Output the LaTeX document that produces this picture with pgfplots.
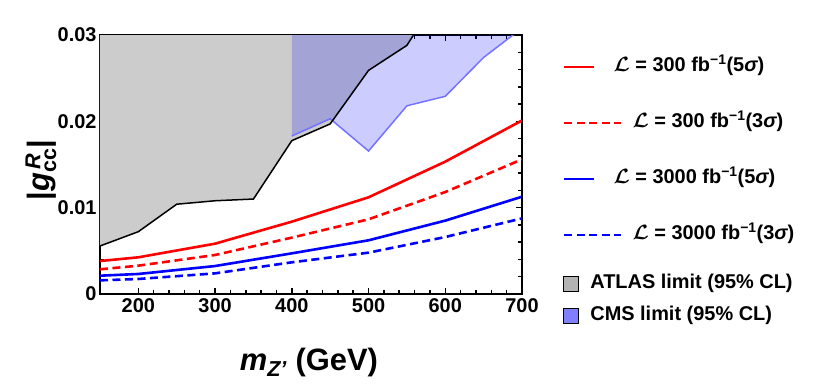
\documentclass[border=0pt]{standalone}
\usepackage{amsmath}
\usepackage{fontspec}
\setmainfont{Liberation Sans}
\usepackage{pgfplots}
\pgfplotsset{compat=1.18}

\definecolor{atlasgray}{RGB}{204,204,204}
\definecolor{atlaskey}{RGB}{179,179,179}
\definecolor{cmskey}{RGB}{128,128,255}
\definecolor{cmsedge}{RGB}{115,115,255}

% legend keys: a short solid stroke, a longer dashed stroke that overhangs its cell, a square
\pgfplotsset{
  solidkey/.style={legend image code/.code={\draw[##1] (0bp,0bp) -- (30bp,0bp);}},
  dashkey/.style={legend image code/.code={%
      \path (0bp,0bp) -- (30bp,0bp);
      \draw[##1,overlay] (0bp,0bp) -- (57bp,0bp);}},
  squarekey/.style={legend image code/.code={%
      \fill[##1] (0bp,-7.5bp) rectangle (15bp,7.5bp);}},
}

\newcommand{\lum}[2]{$\boldsymbol{\mathcal{L}}$ = #1 fb\textsuperscript{−1}(#2{\itshape σ})}

\begin{document}
\begin{tikzpicture}
\path[use as bounding box] (-100bp,-90bp) rectangle (723bp,294bp);
\begin{axis}[
  name=main,
  scale only axis,
  width=422bp, height=259bp,
  xmin=150, xmax=700, ymin=0, ymax=0.03,
  xtick={200,300,400,500,600,700},
  ytick={0,0.01,0.02,0.03},
  yticklabels={0,0.01,0.02,0.03},
  scaled y ticks=false,
  minor x tick num=4,
  minor y tick num=4,
  tick align=inside,
  major tick length=6bp,
  minor tick length=4bp,
  every tick/.style={black, line width=1.5bp},
  axis line style={line width=2.4bp},
  /pgf/number format/assume math mode=true,
  tick label style={font=\fontsize{20}{24}\selectfont\bfseries},
  xticklabel style={yshift=-1bp},
  xlabel={{\itshape m}$_{\text{\itshape Z'}}$ (GeV)},
  ylabel={|{\itshape g}$_{\text{cc}}^{\,\text{\itshape R}}$|},
  label style={font=\fontsize{31}{36}\selectfont\bfseries},
  xlabel style={at={(axis description cs:0.495,-0.263)}, anchor=center},
  ylabel style={at={(axis description cs:-0.14,0.479)}, anchor=center},
  legend cell align=left,
  legend style={
    at={(axis description cs:1,1)}, anchor=north west,
    xshift=41bp, yshift=-22.5bp,
    draw=none, fill=none, inner sep=0pt, outer sep=0pt,
    nodes={inner sep=0pt, text height=14bp, text depth=5bp},
    column sep=18bp, row sep=37bp,
    font=\fontsize{20}{24}\selectfont\bfseries,
  },
]
% ATLAS excluded region (above the black curve)
\addplot[fill=atlasgray, draw=none, forget plot] coordinates {
  (150,0.00556) (200,0.00722) (250,0.0104) (300,0.0108) (350,0.0110)
  (400,0.01776) (450,0.0197) (500,0.0259) (550,0.0288) (560,0.0302)
  (560,0.0310) (150,0.0310)} -- cycle;
% CMS excluded region
\addplot[fill=blue, fill opacity=0.2, draw=none, forget plot] coordinates {
  (400,0.0183) (450,0.0203) (500,0.01656) (550,0.0218) (600,0.0229)
  (650,0.0274) (700,0.0308) (700,0.0310) (400,0.0310)} -- cycle;
\addplot[cmsedge, line width=1.5bp, forget plot] coordinates {
  (400,0.0183) (450,0.0203) (500,0.01656) (550,0.0218) (600,0.0229)
  (650,0.0274) (700,0.0308)};
\addplot[black, line width=1.5bp, forget plot] coordinates {
  (150,0.00556) (200,0.00722) (250,0.0104) (300,0.0108) (350,0.0110)
  (400,0.01776) (450,0.0197) (500,0.0259) (550,0.0288) (560,0.0302)};

% projected reach
\addplot[red, line width=2.6bp, solidkey] coordinates {
  (150,0.00382) (200,0.00425) (300,0.00583) (400,0.00838) (500,0.0112)
  (600,0.01533) (700,0.0201)};
\addlegendentry{\lum{300}{5}}
\addplot[red, line width=2.6bp, dash pattern=on 8bp off 4.5bp, dashkey] coordinates {
  (150,0.00286) (200,0.00328) (300,0.00452) (400,0.00653) (500,0.00865)
  (600,0.01181) (700,0.0156)};
\addlegendentry{\hspace{19bp}\lum{300}{3}}
\addplot[blue, line width=2.6bp, solidkey] coordinates {
  (150,0.00212) (200,0.00232) (300,0.00324) (400,0.00471) (500,0.00622)
  (600,0.0085) (700,0.01127)};
\addlegendentry{\lum{3000}{5}}
\addplot[blue, line width=2.6bp, dash pattern=on 8bp off 4.5bp, dashkey] coordinates {
  (150,0.00158) (200,0.00174) (300,0.00239) (400,0.00367) (500,0.00479)
  (600,0.0066) (700,0.00876)};
\addlegendentry{\hspace{19bp}\lum{3000}{3}}
\end{axis}

% second, empty axis carrying the legend for the excluded regions
\begin{axis}[
  scale only axis,
  width=422bp, height=259bp,
  xmin=0, xmax=1, ymin=0, ymax=1,
  hide axis,
  legend cell align=left,
  legend style={
    at={(axis description cs:1,1)}, anchor=north west,
    xshift=41bp, yshift=-239.5bp,
    draw=none, fill=none, inner sep=0pt, outer sep=0pt,
    nodes={inner sep=0pt, text height=14bp, text depth=5bp},
    column sep=12bp, row sep=13bp,
    font=\fontsize{20}{24}\selectfont\bfseries,
  },
]
\addlegendimage{squarekey, fill=atlaskey}
\addlegendentry{ATLAS limit (95\% CL)}
\addlegendimage{squarekey, fill=cmskey}
\addlegendentry{CMS limit (95\% CL)}
\end{axis}
\end{tikzpicture}
\end{document}
